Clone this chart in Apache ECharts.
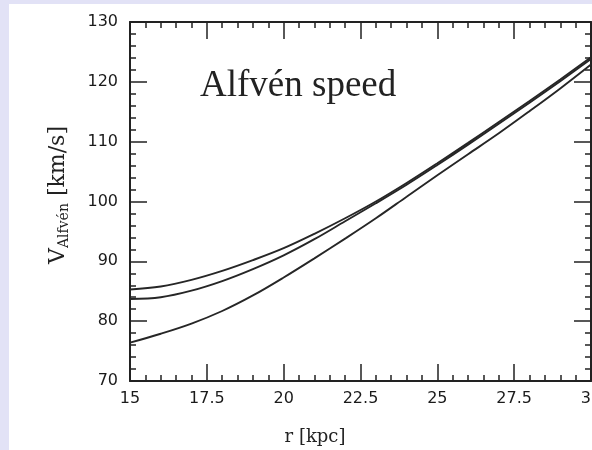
<!DOCTYPE html>
<html>
<head>
<meta charset="utf-8">
<script src="https://cdn.jsdelivr.net/npm/echarts@6/dist/echarts.min.js"></script>
<style>
  html, body { margin: 0; padding: 0; background: #e2e2f6; }
  #panel { position: absolute; left: 9px; top: 4px; width: 583px; height: 446px; background: #ffffff; }
  #chart { position: absolute; left: 0; top: 0; width: 592px; height: 450px; }
</style>
</head>
<body>
<div id="panel"></div>
<div id="chart"></div>
<script>
// Galactocentric radius [kpc]
const radius = [15, 16, 17, 18, 19, 20, 21, 22, 23, 24, 25, 26, 27, 28, 29, 30];

// Alfvén speed profiles [km/s]
const vUpper  = [85.3, 85.8, 86.9, 88.4, 90.2, 92.2, 94.6, 97.2, 100.0, 103.1, 106.4, 109.8, 113.3, 116.8, 120.4, 124.1];
const vMiddle = [83.7, 84.0, 85.1, 86.7, 88.7, 91.0, 93.7, 96.7, 99.7, 102.8, 106.1, 109.5, 113.0, 116.5, 120.1, 123.8];
const vLower  = [76.4, 77.9, 79.6, 81.7, 84.3, 87.3, 90.5, 93.8, 97.2, 100.8, 104.4, 107.9, 111.4, 115.1, 118.9, 122.9];

// Axis ranges
const xRange = { min: 15, max: 30, step: 2.5 };
const yRange = { min: 70, max: 130, step: 10 };

const ink = '#222222';

function pairs(ys) {
  return radius.map((r, i) => [r, ys[i]]);
}

function axisBase(range, showLabel, position, labelMargin) {
  return {
    type: 'value',
    min: range.min,
    max: range.max,
    interval: range.step,
    position: position,
    axisLine: { show: true, onZero: false, lineStyle: { color: ink, width: 2 } },
    axisTick: { show: true, inside: true, length: 17, lineStyle: { color: ink, width: 1.5 } },
    minorTick: { show: true, splitNumber: 5, length: 6, lineStyle: { color: ink, width: 1.5 } },
    splitLine: { show: false },
    minorSplitLine: { show: false },
    axisLabel: {
      show: showLabel,
      color: '#1a1a1a',
      fontFamily: 'DejaVu Sans',
      fontSize: 16,
      margin: labelMargin || 10,
      hideOverlap: false
    }
  };
}

const chart = echarts.init(document.getElementById('chart'), null, { renderer: 'canvas' });

const lineSeries = (name, ys) => ({
  name: name,
  type: 'line',
  data: pairs(ys),
  xAxisIndex: 0,
  yAxisIndex: 0,
  showSymbol: false,
  smooth: 0.35,
  clip: true,
  lineStyle: { color: '#262626', width: 1.9 },
  animation: false
});

chart.setOption({
  backgroundColor: 'transparent',
  animation: false,
  grid: { left: 130, right: 1, top: 22, bottom: 69, containLabel: false, outerBoundsMode: 'none' },
  xAxis: [
    axisBase(xRange, true, 'bottom', 10),
    axisBase(xRange, false, 'top')
  ],
  yAxis: [
    axisBase(yRange, true, 'left', 12),
    axisBase(yRange, false, 'right')
  ],
  series: [
    lineSeries('upper', vUpper),
    lineSeries('middle', vMiddle),
    lineSeries('lower', vLower)
  ],
  graphic: [
    {
      type: 'text',
      x: 200, y: 86,
      style: {
        text: 'Alfvén speed',
        fontFamily: 'Liberation Serif',
        fontSize: 37,
        fill: ink,
        textAlign: 'left',
        textVerticalAlign: 'middle'
      }
    },
    {
      type: 'text',
      x: 315, y: 437,
      style: {
        text: 'r [kpc]',
        fontFamily: 'DejaVu Serif',
        fontSize: 18,
        fill: ink,
        textAlign: 'center',
        textVerticalAlign: 'middle'
      }
    },
    {
      type: 'text',
      x: 58, y: 195,
      rotation: Math.PI / 2,
      style: {
        text: '{v|V}{s|Alfvén}{v| [km/s]}',
        fill: ink,
        textAlign: 'center',
        textVerticalAlign: 'middle',
        rich: {
          v: { fontFamily: 'DejaVu Serif', fontSize: 22, lineHeight: 27, fill: ink },
          s: { fontFamily: 'DejaVu Serif', fontSize: 14, lineHeight: 15, verticalAlign: 'bottom', fill: ink }
        }
      }
    }
  ]
});
</script>
</body>
</html>
